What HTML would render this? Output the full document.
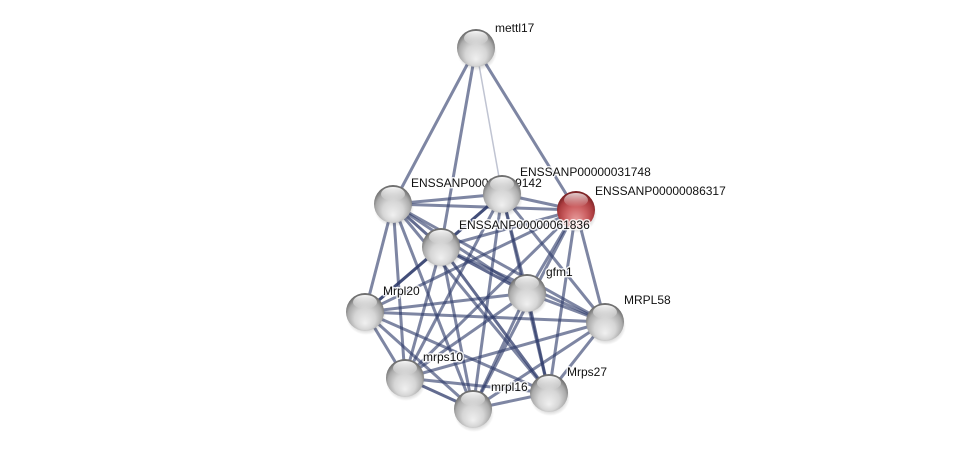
<!DOCTYPE html>
<html><head><meta charset="utf-8"><style>
html,body{margin:0;padding:0;background:#fff;width:975px;height:454px;overflow:hidden}
svg{position:absolute;left:0;top:0}
text{font-family:"Liberation Sans",Arial,sans-serif;font-size:12px;fill:#111;stroke:#fff;stroke-width:3px;stroke-opacity:.85;paint-order:stroke;stroke-linejoin:round}
</style></head><body>
<svg width="975" height="454" viewBox="0 0 975 454" xmlns="http://www.w3.org/2000/svg">
<defs>
<radialGradient id="gg" cx="50%" cy="58%" r="55%" fx="50%" fy="80%">
<stop offset="0%" stop-color="#f0f0f0"/><stop offset="50%" stop-color="#d6d6d6"/><stop offset="82%" stop-color="#ababab"/><stop offset="100%" stop-color="#6e6e6e"/>
</radialGradient>
<radialGradient id="rg" cx="50%" cy="58%" r="55%" fx="50%" fy="80%">
<stop offset="0%" stop-color="#e8a0a0"/><stop offset="50%" stop-color="#cd6163"/><stop offset="82%" stop-color="#ac3d40"/><stop offset="100%" stop-color="#7c2326"/>
</radialGradient>
<linearGradient id="hl" x1="0" y1="0" x2="0" y2="1">
<stop offset="0%" stop-color="#fff" stop-opacity=".95"/><stop offset="100%" stop-color="#fff" stop-opacity="0"/>
</linearGradient>
<radialGradient id="sh" cx="50%" cy="50%" r="50%">
<stop offset="60%" stop-color="#000" stop-opacity=".25"/><stop offset="100%" stop-color="#000" stop-opacity="0"/>
</radialGradient>
</defs>
<g stroke="#2f3b6b" stroke-width="3" stroke-opacity=".62" fill="none" stroke-linecap="round">
<line x1="476" y1="48" x2="393" y2="204"/>
<line x1="476" y1="48" x2="441" y2="247"/>
<line x1="476" y1="48" x2="576" y2="210"/>
<line x1="476" y1="48" x2="502" y2="194" stroke-width="1.5" stroke-opacity=".3"/>
<line x1="393" y1="204" x2="502" y2="194"/>
<line x1="393" y1="204" x2="576" y2="210"/>
<line x1="393" y1="204" x2="441" y2="247" stroke-opacity=".75"/>
<line x1="393" y1="204" x2="527" y2="293"/>
<line x1="393" y1="204" x2="365" y2="312"/>
<line x1="393" y1="204" x2="605" y2="322"/>
<line x1="393" y1="204" x2="405" y2="378"/>
<line x1="393" y1="204" x2="473" y2="409"/>
<line x1="393" y1="204" x2="549" y2="393"/>
<line x1="502" y1="194" x2="576" y2="210"/>
<line x1="502" y1="194" x2="441" y2="247" stroke-opacity=".75"/>
<line x1="502" y1="194" x2="527" y2="293"/>
<line x1="502" y1="194" x2="365" y2="312"/>
<line x1="502" y1="194" x2="605" y2="322"/>
<line x1="502" y1="194" x2="405" y2="378"/>
<line x1="502" y1="194" x2="473" y2="409"/>
<line x1="502" y1="194" x2="549" y2="393"/>
<line x1="576" y1="210" x2="441" y2="247"/>
<line x1="576" y1="210" x2="527" y2="293"/>
<line x1="576" y1="210" x2="365" y2="312"/>
<line x1="576" y1="210" x2="605" y2="322"/>
<line x1="576" y1="210" x2="405" y2="378"/>
<line x1="576" y1="210" x2="473" y2="409"/>
<line x1="576" y1="210" x2="549" y2="393"/>
<line x1="441" y1="247" x2="527" y2="293" stroke-opacity=".75"/>
<line x1="441" y1="247" x2="365" y2="312" stroke-opacity=".75"/>
<line x1="441" y1="247" x2="605" y2="322"/>
<line x1="441" y1="247" x2="405" y2="378"/>
<line x1="441" y1="247" x2="473" y2="409"/>
<line x1="441" y1="247" x2="549" y2="393" stroke-opacity=".75"/>
<line x1="527" y1="293" x2="365" y2="312"/>
<line x1="527" y1="293" x2="605" y2="322"/>
<line x1="527" y1="293" x2="405" y2="378"/>
<line x1="527" y1="293" x2="473" y2="409"/>
<line x1="527" y1="293" x2="549" y2="393" stroke-opacity=".75"/>
<line x1="365" y1="312" x2="605" y2="322"/>
<line x1="365" y1="312" x2="405" y2="378"/>
<line x1="365" y1="312" x2="473" y2="409"/>
<line x1="365" y1="312" x2="549" y2="393"/>
<line x1="605" y1="322" x2="405" y2="378"/>
<line x1="605" y1="322" x2="473" y2="409"/>
<line x1="605" y1="322" x2="549" y2="393"/>
<line x1="405" y1="378" x2="473" y2="409" stroke-opacity=".75"/>
<line x1="405" y1="378" x2="549" y2="393"/>
<line x1="473" y1="409" x2="549" y2="393"/>
</g>

<g><ellipse cx="477" cy="52" rx="20" ry="19" fill="url(#sh)"/><circle cx="476" cy="48" r="19" fill="url(#gg)"/><ellipse cx="476" cy="38" rx="12" ry="7" fill="url(#hl)"/></g>
<text x="495" y="32">mettl17</text>
<g><ellipse cx="394" cy="208" rx="20" ry="19" fill="url(#sh)"/><circle cx="393" cy="204" r="19" fill="url(#gg)"/><ellipse cx="393" cy="194" rx="12" ry="7" fill="url(#hl)"/></g>
<text x="411" y="187">ENSSANP00000009142</text>
<g><ellipse cx="503" cy="198" rx="20" ry="19" fill="url(#sh)"/><circle cx="502" cy="194" r="19" fill="url(#gg)"/><ellipse cx="502" cy="184" rx="12" ry="7" fill="url(#hl)"/></g>
<text x="520" y="176">ENSSANP00000031748</text>
<g><ellipse cx="577" cy="214" rx="20" ry="19" fill="url(#sh)"/><circle cx="576" cy="210" r="19" fill="url(#rg)"/><ellipse cx="576" cy="200" rx="12" ry="7" fill="url(#hl)" opacity=".8"/></g>
<text x="595" y="195">ENSSANP00000086317</text>
<g><ellipse cx="442" cy="251" rx="20" ry="19" fill="url(#sh)"/><circle cx="441" cy="247" r="19" fill="url(#gg)"/><ellipse cx="441" cy="237" rx="12" ry="7" fill="url(#hl)"/></g>
<text x="459" y="229">ENSSANP00000061836</text>
<g><ellipse cx="528" cy="297" rx="20" ry="19" fill="url(#sh)"/><circle cx="527" cy="293" r="19" fill="url(#gg)"/><ellipse cx="527" cy="283" rx="12" ry="7" fill="url(#hl)"/></g>
<text x="546" y="276">gfm1</text>
<g><ellipse cx="366" cy="316" rx="20" ry="19" fill="url(#sh)"/><circle cx="365" cy="312" r="19" fill="url(#gg)"/><ellipse cx="365" cy="302" rx="12" ry="7" fill="url(#hl)"/></g>
<text x="383" y="295">Mrpl20</text>
<g><ellipse cx="606" cy="326" rx="20" ry="19" fill="url(#sh)"/><circle cx="605" cy="322" r="19" fill="url(#gg)"/><ellipse cx="605" cy="312" rx="12" ry="7" fill="url(#hl)"/></g>
<text x="624" y="304">MRPL58</text>
<g><ellipse cx="406" cy="382" rx="20" ry="19" fill="url(#sh)"/><circle cx="405" cy="378" r="19" fill="url(#gg)"/><ellipse cx="405" cy="368" rx="12" ry="7" fill="url(#hl)"/></g>
<text x="423" y="361">mrps10</text>
<g><ellipse cx="550" cy="397" rx="20" ry="19" fill="url(#sh)"/><circle cx="549" cy="393" r="19" fill="url(#gg)"/><ellipse cx="549" cy="383" rx="12" ry="7" fill="url(#hl)"/></g>
<text x="567" y="376">Mrps27</text>
<g><ellipse cx="474" cy="413" rx="20" ry="19" fill="url(#sh)"/><circle cx="473" cy="409" r="19" fill="url(#gg)"/><ellipse cx="473" cy="399" rx="12" ry="7" fill="url(#hl)"/></g>
<text x="491" y="391">mrpl16</text>
</svg>
</body></html>
